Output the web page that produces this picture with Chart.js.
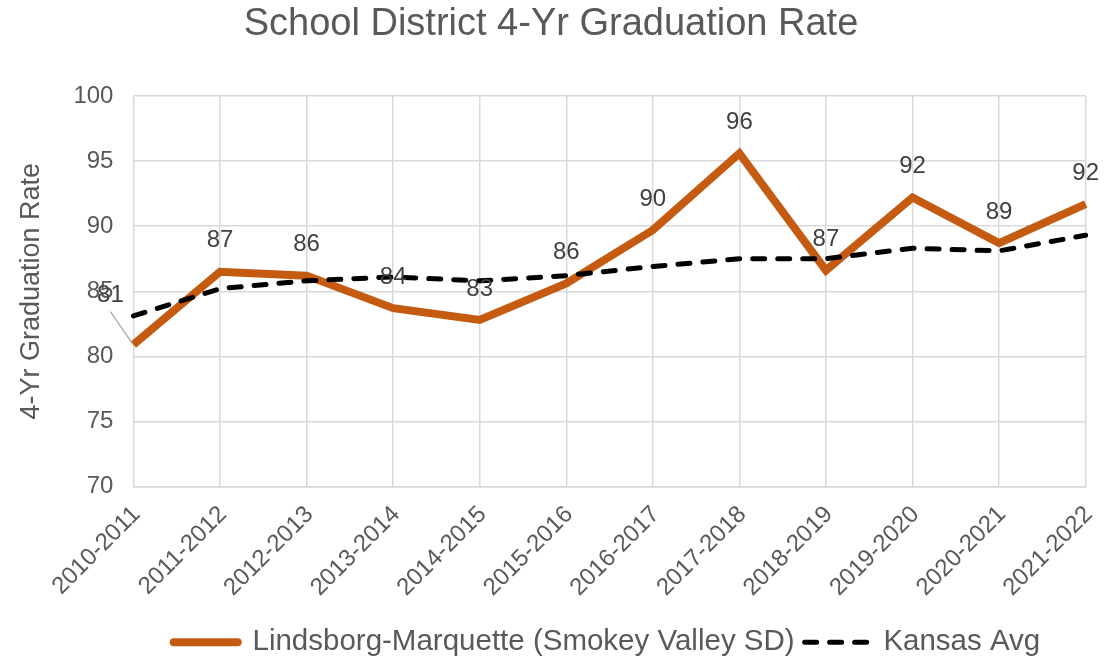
<!DOCTYPE html>
<html>
<head>
<meta charset="utf-8">
<script src="https://cdn.jsdelivr.net/npm/chart.js@4/dist/chart.umd.min.js"></script>
<style>
  html, body { margin: 0; padding: 0; background: #fff; }
  #wrap { width: 1120px; height: 670px; }
</style>
</head>
<body>
<div id="wrap"><canvas id="chart"></canvas></div>
<script>
// --- data ---
const years = ['2010-2011', '2011-2012', '2012-2013', '2013-2014', '2014-2015', '2015-2016',
               '2016-2017', '2017-2018', '2018-2019', '2019-2020', '2020-2021', '2021-2022'];
const district = [80.9, 86.5, 86.2, 83.7, 82.8, 85.6, 89.7, 95.6, 86.6, 92.2, 88.7, 91.7];
const kansasAvg = [83.1, 85.2, 85.8, 86.1, 85.8, 86.2, 86.9, 87.5, 87.5, 88.3, 88.1, 89.3];
const districtName = 'Lindsborg-Marquette (Smokey Valley SD)';
const kansasName = 'Kansas Avg';

const FONT = '"Liberation Sans", Arial, sans-serif';
const TEXT = '#595959';
const GRID = '#d9d9d9';
const ORANGE = '#C55A11';

// value labels above the district line (first one pulled out with a leader line)
const valueLabels = {
    id: 'valueLabels',
    afterDatasetsDraw(chart) {
        const meta = chart.getDatasetMeta(0);
        const ctx = chart.ctx;
        ctx.save();
        ctx.font = '24px ' + FONT;
        ctx.fillStyle = '#404040';
        ctx.textAlign = 'center';
        ctx.textBaseline = 'middle';
        meta.data.forEach((pt, i) => {
            let lx = pt.x, ly = pt.y - 31;
            if (i === 0) {
                lx = pt.x - 23;
                ly = pt.y - 49;
                ctx.strokeStyle = '#a6a6a6';
                ctx.lineWidth = 1.2;
                ctx.beginPath();
                ctx.moveTo(lx, ly + 16);
                ctx.lineTo(pt.x - 1, pt.y - 1);
                ctx.stroke();
            }
            ctx.fillText(String(Math.round(district[i])), lx, ly);
        });
        ctx.restore();
    }
};

// nudge the legend so it sits where the reference has it
const legendShift = {
    id: 'legendShift',
    afterLayout(chart) {
        chart.legend.left += 56;
        chart.legend.right += 56;
    }
};

new Chart(document.getElementById('chart'), {
    type: 'line',
    data: {
        labels: years,
        datasets: [
            {
                label: districtName,
                data: district,
                borderColor: ORANGE,
                backgroundColor: ORANGE,
                borderWidth: 8,
                borderJoinStyle: 'miter',
                pointRadius: 0,
                tension: 0,
                order: 2
            },
            {
                label: kansasName,
                data: kansasAvg,
                borderColor: '#000',
                backgroundColor: '#000',
                borderWidth: 5,
                borderDash: [12, 13],
                borderCapStyle: 'round',
                pointRadius: 0,
                tension: 0,
                order: 1
            }
        ]
    },
    options: {
        responsive: true,
        maintainAspectRatio: false,
        animation: false,
        layout: { padding: { left: 15, right: 33, top: 0, bottom: 3 } },
        plugins: {
            title: {
                display: true,
                text: 'School District 4-Yr Graduation Rate',
                color: TEXT,
                font: { family: FONT, size: 38, weight: 'normal' },
                padding: { top: 2, bottom: 48.4 }
            },
            legend: {
                position: 'bottom',
                labels: {
                    color: TEXT,
                    font: { family: FONT, size: 29.5 },
                    usePointStyle: true,
                    pointStyleWidth: 64,
                    padding: 10,
                    generateLabels: () => [
                        { text: districtName, datasetIndex: 0, pointStyle: 'line', strokeStyle: ORANGE,
                          fillStyle: ORANGE, lineWidth: 8, lineCap: 'round', lineDash: [], fontColor: TEXT },
                        { text: kansasName, datasetIndex: 1, pointStyle: 'line', strokeStyle: '#000',
                          fillStyle: '#000', lineWidth: 5, lineCap: 'round', lineDash: [12, 13], fontColor: TEXT }
                    ]
                }
            },
            tooltip: { enabled: false }
        },
        scales: {
            x: {
                grid: { color: GRID, lineWidth: 1.5, drawTicks: false },
                border: { color: GRID, width: 1.5 },
                ticks: {
                    color: TEXT,
                    font: { family: FONT, size: 24 },
                    minRotation: 45,
                    maxRotation: 45,
                    padding: 14,
                    labelOffset: 3
                },
                afterFit: scale => { scale.height = 131; }
            },
            y: {
                min: 70,
                max: 100,
                grid: { color: GRID, lineWidth: 1.5, drawTicks: false },
                border: { display: false },
                ticks: {
                    stepSize: 5,
                    color: TEXT,
                    font: { family: FONT, size: 24 },
                    padding: 20
                },
                title: {
                    display: true,
                    text: '4-Yr Graduation Rate',
                    color: TEXT,
                    font: { family: FONT, size: 27 },
                    padding: { top: 0, bottom: 6 }
                }
            }
        }
    },
    plugins: [valueLabels, legendShift]
});
</script>
</body>
</html>
